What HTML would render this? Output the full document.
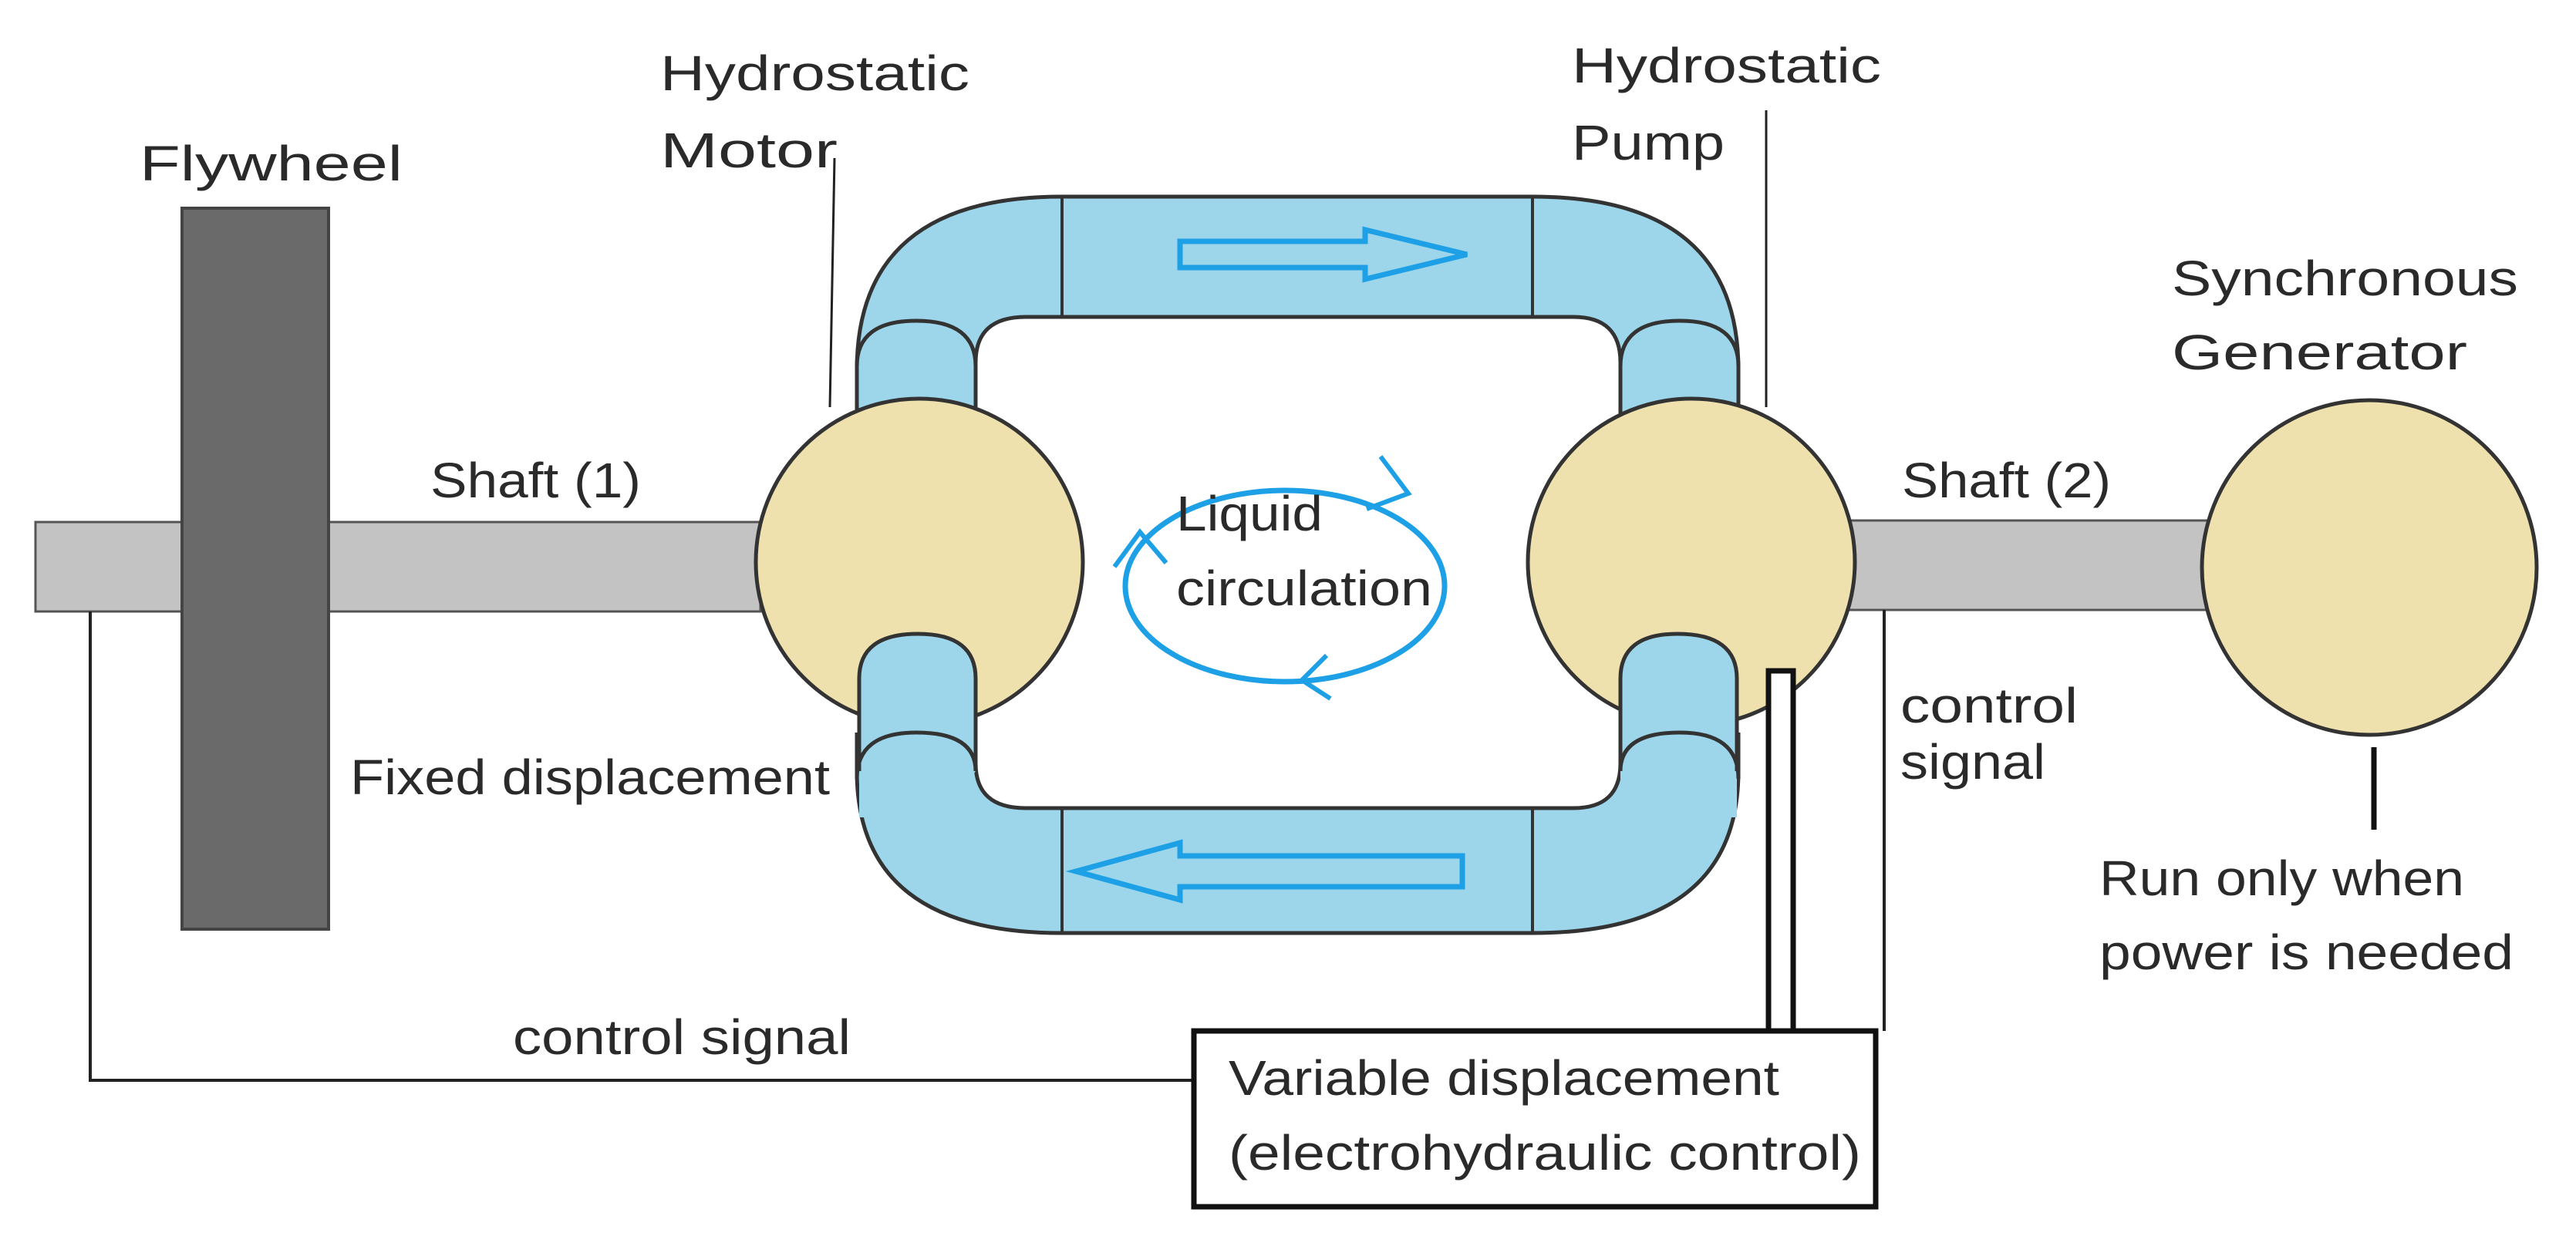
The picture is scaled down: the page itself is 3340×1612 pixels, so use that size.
<!DOCTYPE html>
<html><head><meta charset="utf-8"><style>html,body{margin:0;padding:0;background:#fff}svg{display:block}text{font-family:"Liberation Sans",sans-serif;font-size:64px;fill:#2a2a2a}</style></head>
<body>
<svg width="3340" height="1612" viewBox="0 0 3340 1612" xmlns="http://www.w3.org/2000/svg">
<rect width="3340" height="1612" fill="#fff"/>
<rect x="46" y="677" width="940" height="116" fill="#c3c3c3" stroke="#555" stroke-width="3"/>
<rect x="2380" y="675" width="500" height="116" fill="#c3c3c3" stroke="#555" stroke-width="3"/>
<rect x="236" y="270" width="190" height="935" fill="#6a6a6a" stroke="#444" stroke-width="4"/>
<polyline points="117,793 117,1401 1548,1401" fill="none" stroke="#222" stroke-width="4"/>
<line x1="2443" y1="791" x2="2443" y2="1337" stroke="#222" stroke-width="4"/>
<g fill="#9dd6ea" stroke="#333" stroke-width="5">
<path d="M1111,560 L1111,480 Q1111,255 1377,255 L1987,255 Q2254,255 2254,480 L2254,560 L2101,560 L2101,470 Q2101,411 2040,411 L1330,411 Q1265,411 1265,470 L1265,560 Z"/>
<path d="M1111,960 L1111,1000 Q1111,1210 1377,1210 L1987,1210 Q2254,1210 2254,1000 L2254,960 L2101,960 L2101,990 Q2101,1048 2040,1048 L1330,1048 Q1265,1048 1265,990 L1265,960 Z"/>
<path d="M1111,560 L1111,475 Q1111,416 1188,416 Q1265,416 1265,475 L1265,560 Z"/>
<path d="M2101,560 L2101,475 Q2101,416 2178,416 Q2254,416 2254,475 L2254,560 Z"/>
</g>
<g stroke="#333" stroke-width="4">
<line x1="1377" y1="255" x2="1377" y2="411"/><line x1="1987" y1="255" x2="1987" y2="411"/>
<line x1="1377" y1="1048" x2="1377" y2="1210"/><line x1="1987" y1="1048" x2="1987" y2="1210"/>
</g>
<g fill="#efe1ad" stroke="#333" stroke-width="5">
<circle cx="1192" cy="729" r="212"/>
<circle cx="2193" cy="729" r="212"/>
<circle cx="3072" cy="736" r="217"/>
</g>
<g fill="#9dd6ea" stroke="none">
<path d="M1114,1060 L1114,880 Q1114,822 1190,822 Q1265,822 1265,880 L1265,1000 Q1240,1040 1190,1060 Z"/>
<path d="M2101,1060 L2101,880 Q2101,822 2175,822 Q2252,822 2252,880 L2252,1060 Z"/>
</g>
<g fill="none" stroke="#333" stroke-width="5">
<path d="M1114,1000 L1114,880 Q1114,822 1190,822 Q1265,822 1265,880 L1265,990"/>
<path d="M1111,1010 Q1111,950 1188,950 Q1265,950 1265,1000"/>
<path d="M2101,990 L2101,880 Q2101,822 2175,822 Q2252,822 2252,880 L2252,1000"/>
<path d="M2101,1000 Q2101,950 2178,950 Q2254,950 2254,1010"/>
<path d="M1111,950 L1111,1000"/>
<path d="M2254,950 L2254,1000"/>
</g>
<path d="M1530,313 L1770,313 L1770,298 L1902,330 L1770,362 L1770,347 L1530,347 Z" fill="none" stroke="#1ea0e6" stroke-width="7"/>
<path d="M1896,1110 L1530,1110 L1530,1093 L1395,1130 L1530,1167 L1530,1150 L1896,1150 Z" fill="none" stroke="#1ea0e6" stroke-width="7"/>
<ellipse cx="1666" cy="760" rx="207" ry="124" fill="none" stroke="#1ea0e6" stroke-width="7"/>
<g fill="none" stroke="#1ea0e6" stroke-width="6">
<polyline points="1790,592 1826,640 1772,660"/>
<polyline points="1720,850 1688,882 1725,906"/>
<polyline points="1445,735 1478,690 1512,730"/>
</g>
<line x1="1082" y1="205" x2="1076" y2="528" stroke="#222" stroke-width="3"/>
<line x1="2290" y1="143" x2="2290" y2="528" stroke="#222" stroke-width="3"/>
<line x1="3078" y1="969" x2="3078" y2="1076" stroke="#111" stroke-width="7"/>
<rect x="2293" y="870" width="32" height="467" fill="#fff" stroke="#111" stroke-width="7"/>
<rect x="1548" y="1337" width="884" height="228" fill="#fff" stroke="#111" stroke-width="7"/>
<text x="181" y="234" textLength="341" lengthAdjust="spacingAndGlyphs">Flywheel</text>
<text x="856" y="117" textLength="401" lengthAdjust="spacingAndGlyphs">Hydrostatic</text>
<text x="856" y="217" textLength="230" lengthAdjust="spacingAndGlyphs">Motor</text>
<text x="2038" y="107" textLength="401" lengthAdjust="spacingAndGlyphs">Hydrostatic</text>
<text x="2038" y="207" textLength="198" lengthAdjust="spacingAndGlyphs">Pump</text>
<text x="2816" y="383" textLength="449" lengthAdjust="spacingAndGlyphs">Synchronous</text>
<text x="2816" y="479" textLength="383" lengthAdjust="spacingAndGlyphs">Generator</text>
<text x="558" y="645" textLength="273" lengthAdjust="spacingAndGlyphs">Shaft (1)</text>
<text x="2466" y="645" textLength="271" lengthAdjust="spacingAndGlyphs">Shaft (2)</text>
<text x="454" y="1030" textLength="622" lengthAdjust="spacingAndGlyphs">Fixed displacement</text>
<text x="2464" y="937" textLength="230" lengthAdjust="spacingAndGlyphs">control</text>
<text x="2464" y="1010" textLength="188" lengthAdjust="spacingAndGlyphs">signal</text>
<text x="2722" y="1161" textLength="473" lengthAdjust="spacingAndGlyphs">Run only when</text>
<text x="2722" y="1257" textLength="537" lengthAdjust="spacingAndGlyphs">power is needed</text>
<text x="665" y="1367" textLength="438" lengthAdjust="spacingAndGlyphs">control signal</text>
<text x="1593" y="1420" textLength="714" lengthAdjust="spacingAndGlyphs">Variable displacement</text>
<text x="1593" y="1517" textLength="820" lengthAdjust="spacingAndGlyphs">(electrohydraulic control)</text>
<text x="1525" y="688" textLength="190" lengthAdjust="spacingAndGlyphs">Liquid</text>
<text x="1525" y="785" textLength="332" lengthAdjust="spacingAndGlyphs">circulation</text>
</svg>
</body></html>
